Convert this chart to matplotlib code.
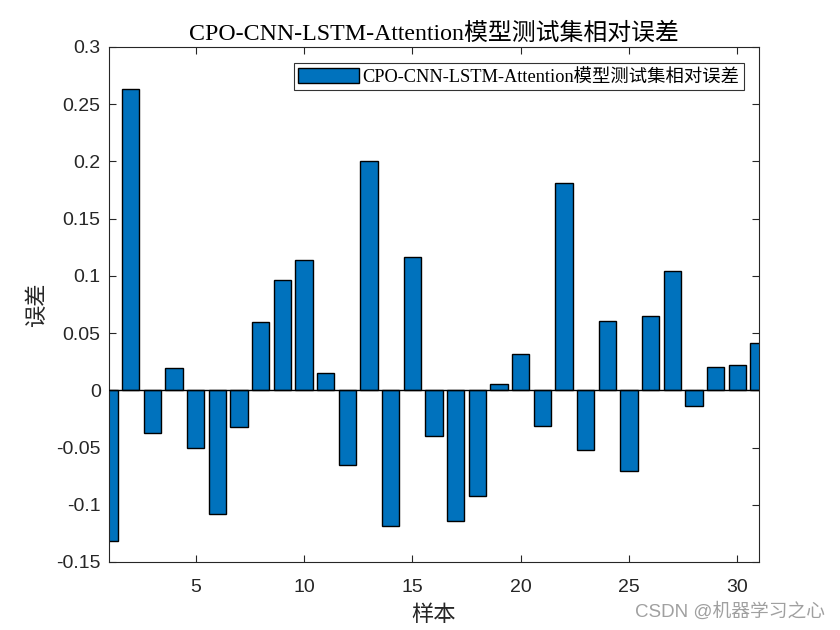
import matplotlib
matplotlib.use('Agg')
import matplotlib.pyplot as plt
import numpy as np

# relative error of each test sample
samples = np.arange(1, 32)
rel_err = [-0.132, 0.2635, -0.0374, 0.0193, -0.050, -0.108, -0.0325, 0.0596,
           0.0964, 0.1139, 0.0149, -0.0657, 0.2007, -0.1183, 0.1166, -0.0403,
           -0.114, -0.092, 0.0053, 0.0318, -0.0316, 0.1814, -0.0526, 0.0605,
           -0.0701, 0.0651, 0.1043, -0.014, 0.0202, 0.0219, 0.0412]

title_txt = 'CPO-CNN-LSTM-Attention模型测试集相对误差'
yticks = [-0.15, -0.1, -0.05, 0, 0.05, 0.1, 0.15, 0.2, 0.25, 0.3]
ytick_lbls = ['-0.15', '-0.1', '-0.05', '0', '0.05', '0.1', '0.15', '0.2', '0.25', '0.3']
xticks = [5, 10, 15, 20, 25, 30]

serif = ['Liberation Serif', 'Noto Sans CJK SC']
sans = ['Liberation Sans', 'Noto Sans CJK SC']
dark = '#262626'

fig = plt.figure(figsize=(8.4, 6.3), dpi=100)
ax = fig.add_axes([0.1298, 0.108, 0.7738, 0.8174])

ax.bar(samples, rel_err, width=0.8, color='#0072BD', edgecolor='black',
       linewidth=1.0, label=title_txt, zorder=2)
# baseline like matlab's bar()
ax.axhline(0, color='black', linewidth=1.0, zorder=3)

ax.set_xlim(1, 31)
ax.set_ylim(-0.15, 0.3)
ax.set_xticks(xticks)
ax.set_yticks(yticks)
ax.set_yticklabels(ytick_lbls)

ax.tick_params(direction='in', top=True, right=True, length=5, width=0.8,
               colors=dark, labelsize=14)
ax.tick_params(axis='x', pad=12)
ax.tick_params(axis='y', pad=6)
for lbl in ax.get_xticklabels() + ax.get_yticklabels():
    lbl.set_family(sans)
for s in ax.spines.values():
    s.set_color(dark)
    s.set_linewidth(0.8)

ax.set_title(title_txt, family=serif, fontsize=17.2, color='black', pad=5)
ax.set_xlabel('样本', family=serif, fontsize=16, color=dark, labelpad=7)
ax.set_ylabel('误差', family=serif, fontsize=16, color=dark, labelpad=6)

leg = ax.legend(loc='upper right', prop={'family': serif, 'size': 13.2},
                frameon=True, fancybox=False, edgecolor='black',
                handlelength=3.3, handleheight=0.9, handletextpad=0.2,
                borderpad=0.25, borderaxespad=0,
                bbox_to_anchor=(0.977, 0.969))
leg.get_frame().set_linewidth(0.8)

fig.text(0.982, 0.014, 'CSDN @机器学习之心', family=sans, fontsize=13.5,
         color='#a0a0a0', ha='right', va='bottom')

fig.savefig('out.png', dpi=100)
